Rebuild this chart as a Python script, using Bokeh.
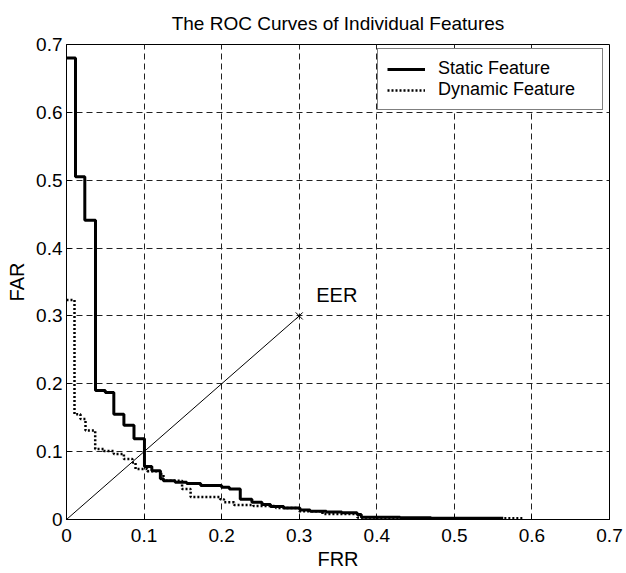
from bokeh.plotting import figure
from bokeh.models import Range1d, FixedTicker, Legend, LegendItem, Label
from bokeh.embed import file_html
from bokeh.resources import INLINE

FONT = "Liberation Sans"

# Static feature ROC (FRR, FAR) step points
static_frr = [0.0, 0.0116, 0.0236, 0.0374, 0.050, 0.061, 0.074, 0.087, 0.1005, 0.110,
              0.121, 0.125, 0.140, 0.155, 0.173, 0.200, 0.210, 0.224, 0.239, 0.252,
              0.263, 0.280, 0.301, 0.314, 0.335, 0.355, 0.3746, 0.380, 0.430, 0.470, 0.563]
static_far = [0.680, 0.505, 0.441, 0.190, 0.187, 0.155, 0.139, 0.119, 0.078, 0.072,
              0.060, 0.057, 0.055, 0.053, 0.050, 0.0475, 0.045, 0.030, 0.0255, 0.022,
              0.019, 0.017, 0.014, 0.012, 0.011, 0.010, 0.0075, 0.0035, 0.0025, 0.002, 0.002]

# Dynamic feature ROC (FRR, FAR) step points
dynamic_frr = [0.0, 0.0103, 0.018, 0.0245, 0.037, 0.048, 0.061, 0.074, 0.085, 0.089,
               0.104, 0.121, 0.125, 0.149, 0.160, 0.198, 0.203, 0.216, 0.241, 0.270,
               0.300, 0.330, 0.375, 0.400, 0.589]
dynamic_far = [0.3235, 0.155, 0.148, 0.131, 0.104, 0.101, 0.0966, 0.089, 0.084, 0.0745,
               0.071, 0.067, 0.057, 0.045, 0.033, 0.030, 0.0255, 0.0215, 0.020, 0.017,
               0.012, 0.008, 0.003, 0.002, 0.002]

eer_x = [0.0, 0.3]
eer_y = [0.0, 0.3]
ticks = [0, 0.1, 0.2, 0.3, 0.4, 0.5, 0.6, 0.7]

p = figure(width=626, height=573, output_backend="svg", toolbar_location=None,
           x_range=Range1d(0, 0.7), y_range=Range1d(0, 0.7),
           min_border_left=66, min_border_right=17, min_border_top=44, min_border_bottom=54,
           title="The ROC Curves of Individual Features")
p.title.text_font = FONT
p.title.text_font_size = "19px"
p.title.text_font_style = "normal"
p.title.text_color = "black"
p.title.align = "center"
p.title.standoff = 21

p.outline_line_color = "black"
p.outline_line_width = 1
p.outline_line_alpha = 1

for ax in (p.xaxis[0], p.yaxis[0]):
    ax.ticker = FixedTicker(ticks=ticks)
    ax.major_tick_in = 5
    ax.major_tick_out = 0
    ax.minor_tick_line_color = None
    ax.axis_line_color = "black"
    ax.major_tick_line_color = "black"
    ax.major_label_text_font = FONT
    ax.major_label_text_font_size = "19px"
    ax.major_label_text_color = "black"
    ax.axis_label_text_font = FONT
    ax.axis_label_text_font_size = "20px"
    ax.axis_label_text_font_style = "normal"
    ax.axis_label_text_color = "black"

p.xaxis.axis_label = "FRR"
p.yaxis.axis_label = "FAR"
p.xaxis.major_label_standoff = 9
p.xaxis.axis_label_standoff = 3
p.yaxis.major_label_standoff = 4
p.yaxis.axis_label_standoff = 5

for g in (p.xgrid[0], p.ygrid[0]):
    g.ticker = FixedTicker(ticks=ticks)
    g.grid_line_color = "#222222"
    g.grid_line_dash = "6 4"
    g.grid_line_width = 1

p.line(eer_x, eer_y, line_color="black", line_width=1)
p.scatter([eer_x[1]], [eer_y[1]], marker="x", size=10, line_color="black", line_width=1)
p.add_layout(Label(x=0.322, y=0.3147, text="EER", text_font=FONT, text_font_size="20px",
                   text_color="black"))

r_static = p.step(static_frr, static_far, mode="after", line_color="black", line_width=3)
r_dyn = p.step(dynamic_frr, dynamic_far, mode="after", line_color="black", line_width=2.5,
               line_dash="2 2")

legend = Legend(items=[LegendItem(label="Static Feature", renderers=[r_static]),
                       LegendItem(label="Dynamic Feature", renderers=[r_dyn])],
                location=(311, 409))
legend.label_text_font = FONT
legend.label_text_font_size = "18px"
legend.label_text_color = "black"
legend.glyph_width = 38
legend.glyph_height = 20
legend.label_height = 20
legend.label_width = 155
legend.label_standoff = 13
legend.padding = 9
legend.spacing = 0
legend.margin = 0
legend.border_line_color = "black"
legend.border_line_width = 1
legend.background_fill_alpha = 1
p.add_layout(legend, "center")

open("out.html", "w").write(file_html(p, INLINE))
